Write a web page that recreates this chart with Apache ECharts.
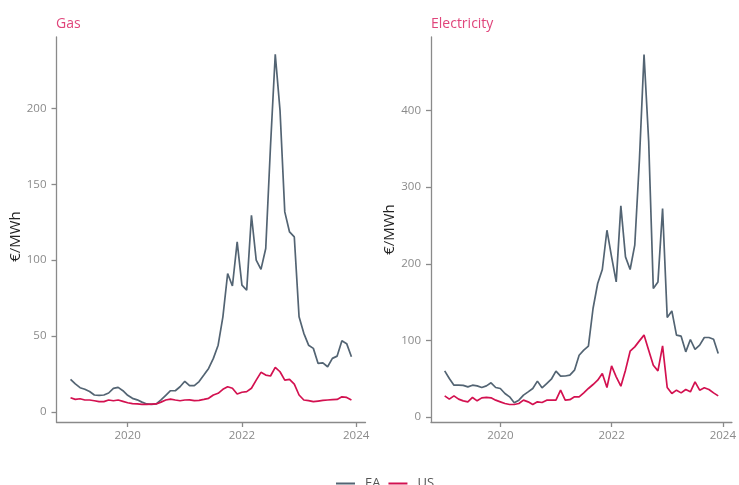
<!DOCTYPE html>
<html>
<head>
<meta charset="utf-8">
<script src="https://cdn.jsdelivr.net/npm/echarts@6/dist/echarts.min.js"></script>
<style>
html,body{margin:0;padding:0;background:#fff;}
#chart{width:739px;height:485px;}
</style>
</head>
<body>
<div id="chart"></div>
<script>
// Monthly observations, Jan 2019 .. Dec 2023
const months = [];
for (let y = 2019; y <= 2023; y++) {
  for (let m = 1; m <= 12; m++) months.push(y + '-' + String(m).padStart(2, '0'));
}

const xTicks = [2020, 2022, 2024];
const gasTicks = [0, 50, 100, 150, 200];
const elecTicks = [0, 100, 200, 300, 400];

const gasEA = [21.5, 18.5, 16, 15, 13.5, 11.2, 11, 11.2, 12.5, 15.5, 16.2, 14,
  11, 9, 8, 6.5, 5.3, 5, 5.3, 8, 11, 14, 14, 16.6,
  20.2, 17.3, 17.3, 20, 24.3, 28.7, 35.3, 44, 62.7, 91.2, 83, 112,
  83.6, 80.3, 129.6, 100, 93.9, 107.7, 175, 235.6, 198.7, 131.8, 118.6, 115.3,
  62.7, 51.8, 44, 41.9, 32, 32.4, 29.8, 35.3, 36.8, 46.9, 45, 36.4];

const gasUS = [9.4, 8.3, 8.7, 7.9, 7.9, 7.4, 6.8, 6.8, 7.9, 7.4, 7.9, 7,
  6.1, 5.5, 5.3, 5, 5, 5.2, 5.3, 6.5, 7.9, 8.5, 7.9, 7.4,
  7.9, 8, 7.5, 7.7, 8.3, 9, 11.2, 12.3, 14.9, 16.6, 15.6, 11.8,
  13, 13.4, 15.6, 21, 26.1, 24.3, 23.7, 29.4, 26.5, 21, 21.5, 18.4,
  11.2, 7.9, 7.5, 6.8, 7.2, 7.6, 7.9, 8.1, 8.3, 10, 9.6, 7.9];

const elecEA = [60.4, 50.4, 41.7, 41.7, 41.5, 39.5, 41.7, 40.8, 38.7, 40.8, 44.8, 38.7,
  37.4, 30.9, 26.5, 18.7, 22.2, 28.7, 33, 37.4, 47, 38.3, 43.9, 49.5,
  60, 53.5, 53.7, 54.8, 61.3, 80.8, 87.4, 92.6, 141.7, 174.3, 192.6, 243.8,
  209, 176.4, 275.5, 209, 192.6, 224.3, 335, 473, 360, 167.8, 176.4, 272,
  130, 138.6, 107, 105.6, 85.2, 101.3, 88.3, 93.9, 103.9, 103.9, 101.7, 83];

const elecUS = [27.8, 23.5, 27.8, 23.5, 21.3, 20, 25.7, 21.3, 25.2, 25.7, 25.2, 22.2,
  20, 17.8, 16.5, 16.5, 17.8, 22.2, 20, 16.5, 20, 19.1, 22.2, 22.2,
  22.2, 35.2, 22.2, 22.8, 26.5, 26.5, 31.7, 37.4, 42.6, 48.2, 57, 38.7,
  66.9, 52.6, 40.4, 61.3, 86, 91.7, 99.5, 107, 87.4, 67.8, 60.4, 93,
  38.7, 30.9, 35.2, 31.7, 36.1, 33, 46, 35.2, 38.3, 36.1, 31.7, 27.8];

const colEA = '#536473';
const colUS = '#d31150';
const axisCol = '#8a8a8a';
const labelCol = '#8a8a8a';
const FONT = 'Open Sans';

function toYear(s) {
  const [y, m] = s.split('-').map(Number);
  return y + (m - 1) / 12;
}
function pairs(vals) {
  return vals.map((v, i) => [toYear(months[i]), v]);
}

function xAxisCfg(gi) {
  return {
    type: 'value', gridIndex: gi, min: 2018.754, max: 2024.163,
    axisLine: { show: true, onZero: false, lineStyle: { color: axisCol, width: 1.3 } },
    axisTick: { show: true, length: 5, customValues: xTicks, lineStyle: { color: axisCol, width: 1.3 } },
    axisLabel: { customValues: xTicks, color: labelCol, fontFamily: FONT, fontSize: 11.5, margin: 8,
      formatter: v => String(Math.round(v)) },
    splitLine: { show: false }
  };
}
function yAxisCfg(gi, min, max, ticks, gap, pad) {
  return {
    type: 'value', gridIndex: gi, min: min, max: max,
    name: '€/MWh', nameLocation: 'middle', nameGap: gap,
    nameTextStyle: { color: '#222', fontFamily: FONT, fontSize: 15, padding: pad },
    axisLine: { show: true, onZero: false, lineStyle: { color: axisCol, width: 1.3 } },
    axisTick: { show: true, length: 5, customValues: ticks, lineStyle: { color: axisCol, width: 1.3 } },
    axisLabel: { customValues: ticks, color: labelCol, fontFamily: FONT, fontSize: 11.5, margin: 10 },
    splitLine: { show: false }
  };
}
function line(name, data, gi, color) {
  return {
    name: name, type: 'line', xAxisIndex: gi, yAxisIndex: gi,
    data: pairs(data), showSymbol: false, symbol: 'none',
    lineStyle: { color: color, width: 1.7 }, itemStyle: { color: color },
    animation: false
  };
}

const chart = echarts.init(document.getElementById('chart'), null, { renderer: 'canvas' });
chart.setOption({
  animation: false,
  backgroundColor: '#fff',
  title: [
    { text: 'Gas', left: 51, top: 12, textStyle: { color: '#e0457b', fontFamily: FONT, fontSize: 14, fontWeight: 'normal' } },
    { text: 'Electricity', left: 426, top: 12, textStyle: { color: '#e0457b', fontFamily: FONT, fontSize: 14, fontWeight: 'normal' } }
  ],
  legend: {
    top: 477, left: 336, padding: 0, itemWidth: 19, itemHeight: 2, itemGap: 8,
    icon: 'rect',
    textStyle: { color: '#555', fontFamily: FONT, fontSize: 13, padding: [0, 0, 0, 5] },
    data: [{ name: 'EA', itemStyle: { color: colEA } }, { name: 'US', itemStyle: { color: colUS } }]
  },
  grid: [
    { left: 56.5, top: 37, width: 309, bottom: 63 },
    { left: 431, top: 37, width: 306.5, bottom: 63 }
  ],
  xAxis: [xAxisCfg(0), xAxisCfg(1)],
  yAxis: [yAxisCfg(0, -6.6, 247, gasTicks, 29, [0, 14, 0, 0]), yAxisCfg(1, -6.3, 495.8, elecTicks, 31, [0, 0, 0, 0])],
  series: [
    line('EA', gasEA, 0, colEA),
    line('US', gasUS, 0, colUS),
    line('EA', elecEA, 1, colEA),
    line('US', elecUS, 1, colUS)
  ]
});
</script>
</body>
</html>
